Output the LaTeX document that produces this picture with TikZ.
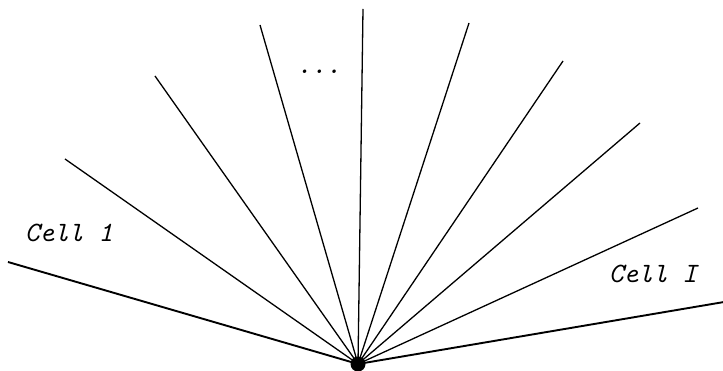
\documentclass[tikz,border=0pt]{standalone}
\begin{document}
\begin{tikzpicture}[x=1pt,y=-1pt,
  ray/.style={line width=1.3pt},
  outerray/.style={line width=1.9pt},
  lbl/.style={font=\fontsize{28}{28}\selectfont\ttfamily\itshape, inner sep=0pt, anchor=base}]
\useasboundingbox (0,0) rectangle (723,371);
\coordinate (c) at (358,364);
\coordinate (e1) at (8,262);
\coordinate (e2) at (65,159);
\coordinate (e3) at (155,76);
\coordinate (e4) at (260,25);
\coordinate (e5) at (363,9);
\coordinate (e6) at (469,23);
\coordinate (e7) at (563,61);
\coordinate (e8) at (640,123);
\coordinate (e9) at (698,208);
\coordinate (e10) at (724,302);
\draw[outerray] (c) -- (e1);
\foreach \i in {2,...,9} { \draw[ray] (c) -- (e\i); }
\draw[outerray] (c) -- (e10);
\node[circle, fill=black, inner sep=0pt, minimum size=15pt] (hub) at (c) {};
\node[lbl] (l1) at (69,242) {Cell 1};
\node[lbl] (l2) at (653,283) {Cell I};
\node[lbl] (dots) at (319,74) {...};
\end{tikzpicture}
\end{document}
